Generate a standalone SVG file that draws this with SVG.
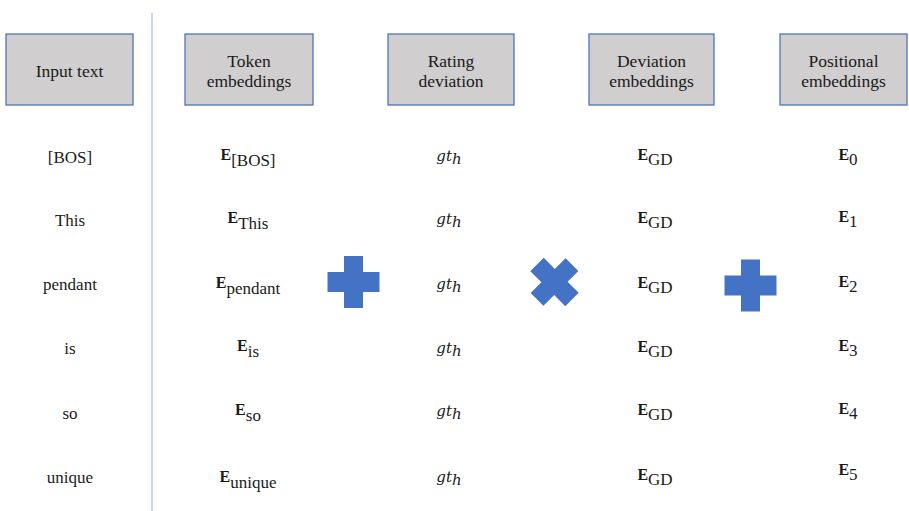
<svg xmlns="http://www.w3.org/2000/svg" width="909" height="511" viewBox="0 0 909 511">
  <style>
    .box rect { fill: #d0cece; stroke: #4f74b8; stroke-width: 1.3; }
    .lbl { font-family: "Liberation Serif", "Times New Roman", serif; font-size: 17.5px; fill: #1a1a1a; text-anchor: middle; }
    .cell { font-family: "Liberation Serif", "Times New Roman", serif; font-size: 17px; fill: #1a1a1a; text-anchor: middle; }
    .b { font-weight: bold; font-size: 16px; }
    .mi { font-family: "DejaVu Serif", "Liberation Serif", serif; font-style: italic; font-size: 15px; }
    .op { fill: #4472c4; }
    .divider { stroke: #b4c7e7; stroke-width: 1.5; }
  </style>
  <defs>
    <path id="plus" d="M-9.5,-26 H9.5 V-10 H26 V10 H9.5 V26 H-9.5 V10 H-26 V-10 H-9.5 Z"/>
  </defs>

  <rect width="909" height="511" fill="#ffffff"/>

  <!-- divider between input tokens and embedding columns -->
  <line class="divider" x1="152" y1="13" x2="152" y2="511"/>

  <!-- column headers -->
  <g id="hdr-input" class="box">
    <rect x="6" y="34" width="127" height="71"/>
    <text class="lbl" x="69.5" y="76.5">Input text</text>
  </g>
  <g id="hdr-token" class="box">
    <rect x="185" y="34" width="128" height="71"/>
    <text class="lbl" x="249" y="66.5">Token</text>
    <text class="lbl" x="249" y="86.5">embeddings</text>
  </g>
  <g id="hdr-rating" class="box">
    <rect x="388" y="34" width="126" height="71"/>
    <text class="lbl" x="451" y="66.5">Rating</text>
    <text class="lbl" x="451" y="86.5">deviation</text>
  </g>
  <g id="hdr-deviation" class="box">
    <rect x="589" y="34" width="125" height="71"/>
    <text class="lbl" x="651.5" y="66.5">Deviation</text>
    <text class="lbl" x="651.5" y="86.5">embeddings</text>
  </g>
  <g id="hdr-positional" class="box">
    <rect x="780" y="34" width="127" height="71"/>
    <text class="lbl" x="843.5" y="66.5">Positional</text>
    <text class="lbl" x="843.5" y="86.5">embeddings</text>
  </g>

  <!-- input tokens -->
  <g id="col-input" class="cell">
    <text x="70" y="162.5">[BOS]</text>
    <text x="70" y="226">This</text>
    <text x="70" y="289.5">pendant</text>
    <text x="70" y="354">is</text>
    <text x="70" y="419">so</text>
    <text x="70" y="483">unique</text>
  </g>

  <!-- token embeddings -->
  <g id="col-token" class="cell">
    <text x="248" y="160"><tspan class="b">E</tspan><tspan dy="6">[BOS]</tspan></text>
    <text x="248" y="223"><tspan class="b">E</tspan><tspan dy="6">This</tspan></text>
    <text x="248" y="288"><tspan class="b">E</tspan><tspan dy="6">pendant</tspan></text>
    <text x="248" y="351"><tspan class="b">E</tspan><tspan dy="6">is</tspan></text>
    <text x="248" y="415"><tspan class="b">E</tspan><tspan dy="6">so</tspan></text>
    <text x="248" y="482"><tspan class="b">E</tspan><tspan dy="6">unique</tspan></text>
  </g>

  <!-- rating deviation -->
  <g id="col-rating" class="cell">
    <text x="449" y="161"><tspan class="mi">gt</tspan><tspan class="mi" font-size="11" dy="3">h</tspan></text>
    <text x="449" y="224"><tspan class="mi">gt</tspan><tspan class="mi" font-size="11" dy="3">h</tspan></text>
    <text x="449" y="289"><tspan class="mi">gt</tspan><tspan class="mi" font-size="11" dy="3">h</tspan></text>
    <text x="449" y="353"><tspan class="mi">gt</tspan><tspan class="mi" font-size="11" dy="3">h</tspan></text>
    <text x="449" y="416"><tspan class="mi">gt</tspan><tspan class="mi" font-size="11" dy="3">h</tspan></text>
    <text x="449" y="482"><tspan class="mi">gt</tspan><tspan class="mi" font-size="11" dy="3">h</tspan></text>
  </g>

  <!-- deviation embeddings -->
  <g id="col-deviation" class="cell">
    <text x="655" y="160"><tspan class="b">E</tspan><tspan dy="5">GD</tspan></text>
    <text x="655" y="223"><tspan class="b">E</tspan><tspan dy="5">GD</tspan></text>
    <text x="655" y="288"><tspan class="b">E</tspan><tspan dy="5">GD</tspan></text>
    <text x="655" y="352"><tspan class="b">E</tspan><tspan dy="5">GD</tspan></text>
    <text x="655" y="415"><tspan class="b">E</tspan><tspan dy="5">GD</tspan></text>
    <text x="655" y="480"><tspan class="b">E</tspan><tspan dy="5">GD</tspan></text>
  </g>

  <!-- positional embeddings -->
  <g id="col-positional" class="cell">
    <text x="848" y="160"><tspan class="b">E</tspan><tspan dy="5">0</tspan></text>
    <text x="848" y="222"><tspan class="b">E</tspan><tspan dy="5">1</tspan></text>
    <text x="848" y="287"><tspan class="b">E</tspan><tspan dy="5">2</tspan></text>
    <text x="848" y="351"><tspan class="b">E</tspan><tspan dy="5">3</tspan></text>
    <text x="848" y="414"><tspan class="b">E</tspan><tspan dy="5">4</tspan></text>
    <text x="848" y="475"><tspan class="b">E</tspan><tspan dy="5">5</tspan></text>
  </g>

  <!-- operators -->
  <g id="op-add-1" class="op"><use href="#plus" transform="translate(353.5,282)"/></g>
  <g id="op-mul" class="op"><use href="#plus" transform="translate(554.5,282) rotate(45) scale(0.95)"/></g>
  <g id="op-add-2" class="op"><use href="#plus" transform="translate(750.5,285.5)"/></g>
</svg>
